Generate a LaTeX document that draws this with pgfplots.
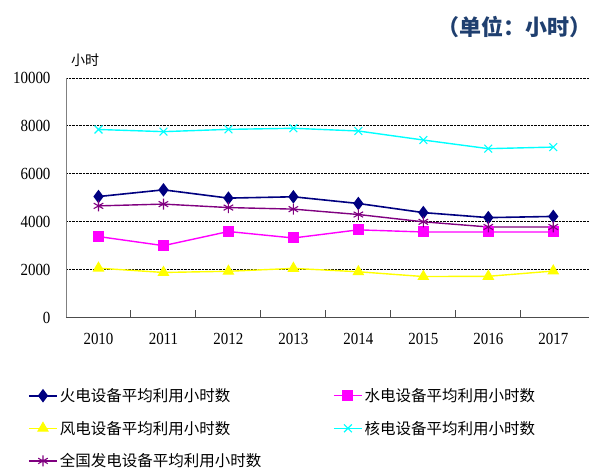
\documentclass[border=0pt]{standalone}
\usepackage{fontspec}
\usepackage{pgfplots}
\pgfplotsset{compat=1.18}
\setmainfont{Liberation Serif}
\newfontfamily\cjk{Noto Sans CJK SC}
\newfontfamily\tickfont[FakeStretch=0.88]{Liberation Serif}
\definecolor{cthermal}{HTML}{000080}
\definecolor{chydro}{HTML}{FF00FF}
\definecolor{cwind}{HTML}{FFFF00}
\definecolor{cnuclear}{HTML}{00FFFF}
\definecolor{cnational}{HTML}{800080}
\definecolor{ctitle}{HTML}{1F3F6F}
\begin{document}
\begin{tikzpicture}[x=1pt,y=1pt]
\useasboundingbox (0,0) rectangle (592,468);
\begin{axis}[
  at={(66pt,150.5pt)}, anchor=south west,
  scale only axis, width=523pt, height=239.5pt,
  xmin=-0.5, xmax=7.55, ymin=0, ymax=10000,
  scaled ticks=false,
  axis x line*=bottom, axis y line*=left,
  x axis line style={color=black!70, line width=1pt},
  y axis line style={color=black!50, line width=1pt},
  xtick={0,...,7},
  xticklabels={2010,2011,2012,2013,2014,2015,2016,2017},
  major tick length=0pt,
  extra x ticks={0.5,1.5,2.5,3.5,4.5,5.5,6.5},
  extra x tick labels={},
  extra x tick style={major tick length=7pt, tick align=inside, tick style={color=black!70, line width=1pt}},
  ytick={0,2000,4000,6000,8000,10000},
  ymajorgrids,
  grid style={black, densely dotted, line width=0.9pt},
  /pgf/number format/assume math mode=true,
  /pgf/number format/1000 sep={},
  yticklabel style={font=\tickfont\fontsize{17}{17}\selectfont, xshift=-12pt},
  xticklabel style={font=\tickfont\fontsize{17}{17}\selectfont, yshift=-12pt},
  legend columns=2,
  legend style={at={(axis description cs:-0.0727,-0.287)}, anchor=north west,
    draw=none, fill=none, inner sep=0pt,
    font=\cjk\fontsize{15.5}{15.5}\selectfont, row sep=14pt,
    nodes={inner sep=2pt},
    /tikz/every even column/.append style={column sep=70pt}},
  legend cell align=left,
  legend image code/.code={\draw[mark repeat=2,mark phase=2] plot coordinates {(0pt,0pt) (14pt,0pt) (28pt,0pt)};},
]
\addplot[cthermal, line width=1.6pt, mark=diamond*, mark size=5.5pt, mark options={solid, fill=cthermal}]
  coordinates {(0,5050) (1,5330) (2,4985) (3,5040) (4,4760) (5,4380) (6,4170) (7,4220)};
\addlegendentry{火电设备平均利用小时数}
\addplot[chydro, line width=1.4pt, mark=square*, mark size=4.8pt, mark options={solid, fill=chydro}]
  coordinates {(0,3380) (1,3000) (2,3590) (3,3320) (4,3660) (5,3570) (6,3570) (7,3570)};
\addlegendentry{水电设备平均利用小时数}
\addplot[cwind, line width=1.4pt, mark=triangle*, mark size=5.5pt, mark options={solid, fill=cwind}]
  coordinates {(0,2060) (1,1880) (2,1930) (3,2050) (4,1910) (5,1710) (6,1720) (7,1940)};
\addlegendentry{风电设备平均利用小时数}
\addplot[cnuclear, line width=1.4pt, mark=x, mark size=5.5pt, mark options={solid, line width=1.1pt}]
  coordinates {(0,7850) (1,7760) (2,7855) (3,7900) (4,7787) (5,7410) (6,7050) (7,7115)};
\addlegendentry{核电设备平均利用小时数}
\addplot[cnational, line width=1.4pt, mark=asterisk, mark size=5.5pt, mark options={solid, line width=1.1pt}]
  coordinates {(0,4660) (1,4735) (2,4590) (3,4525) (4,4300) (5,3995) (6,3780) (7,3780)};
\addlegendentry{全国发电设备平均利用小时数}
\end{axis}
\node[anchor=east, inner sep=0pt, text=ctitle, font=\cjk\bfseries\fontsize{22}{22}\selectfont] at (592,441) {（单位：小时）};
\node[font=\cjk\fontsize{14}{14}\selectfont] at (85,408) {小时};
\end{tikzpicture}
\end{document}
